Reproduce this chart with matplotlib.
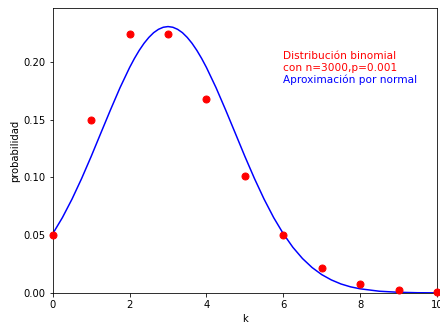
import numpy as np
from matplotlib import pyplot as plt

# binomial n=3000, p=0.001
k = [0, 1, 2, 3, 4, 5, 6, 7, 8, 9, 10]
prob_binom = [0.0498, 0.1495, 0.2242, 0.2243, 0.1682, 0.1009, 0.0504,
              0.0216, 0.0081, 0.0027, 0.0008]

# curva de aproximacion normal
x_norm = [0, 0.25, 0.5, 0.75, 1, 1.25, 1.5, 1.75, 2, 2.125, 2.25, 2.375,
          2.5, 2.625, 2.75, 2.875, 3, 3.125, 3.25, 3.375, 3.5, 3.625, 3.75,
          3.875, 4, 4.25, 4.5, 4.75, 5, 5.25, 5.5, 5.75, 6,
          6.25, 6.5, 6.75, 7, 7.25, 7.5, 7.75, 8, 8.5, 9, 9.5, 10]
prob_norm = [0.0513, 0.0652, 0.0812, 0.0990, 0.1182, 0.1383, 0.1583, 0.1776,
             0.1951, 0.2029, 0.2099, 0.2160, 0.2211, 0.2252, 0.2281, 0.2299,
             0.2305, 0.2299, 0.2281, 0.2252, 0.2211, 0.2160, 0.2099, 0.2029,
             0.1951, 0.1776, 0.1583, 0.1383, 0.1182, 0.0990, 0.0812, 0.0652,
             0.0513, 0.0395, 0.0298, 0.0220, 0.0159, 0.0113, 0.0078, 0.0053,
             0.0036, 0.0015, 0.0006, 0.0002, 0.0001]

fig = plt.figure(figsize=(440 / 72, 323 / 72), dpi=72)
ax = fig.add_axes([0.12, 0.093, 0.873, 0.882])
ax.plot(x_norm, prob_norm, color='blue')
ax.plot(k, prob_binom, 'o', color='red', markersize=7, clip_on=False, zorder=3)
ax.set_xlim(0, 10)
ax.set_ylim(0, 0.2465)
ax.set_xlabel('k')
ax.set_ylabel('probabilidad', labelpad=3)
ax.text(6, 0.1995, 'Distribución binomial\ncon n=3000,p=0.001', color='red',
        fontsize=10.5, va='center', linespacing=1.25)
ax.text(6, 0.1845, 'Aproximación por normal', color='blue', fontsize=10.5,
        va='center')
fig.savefig('out.png', dpi=72)
